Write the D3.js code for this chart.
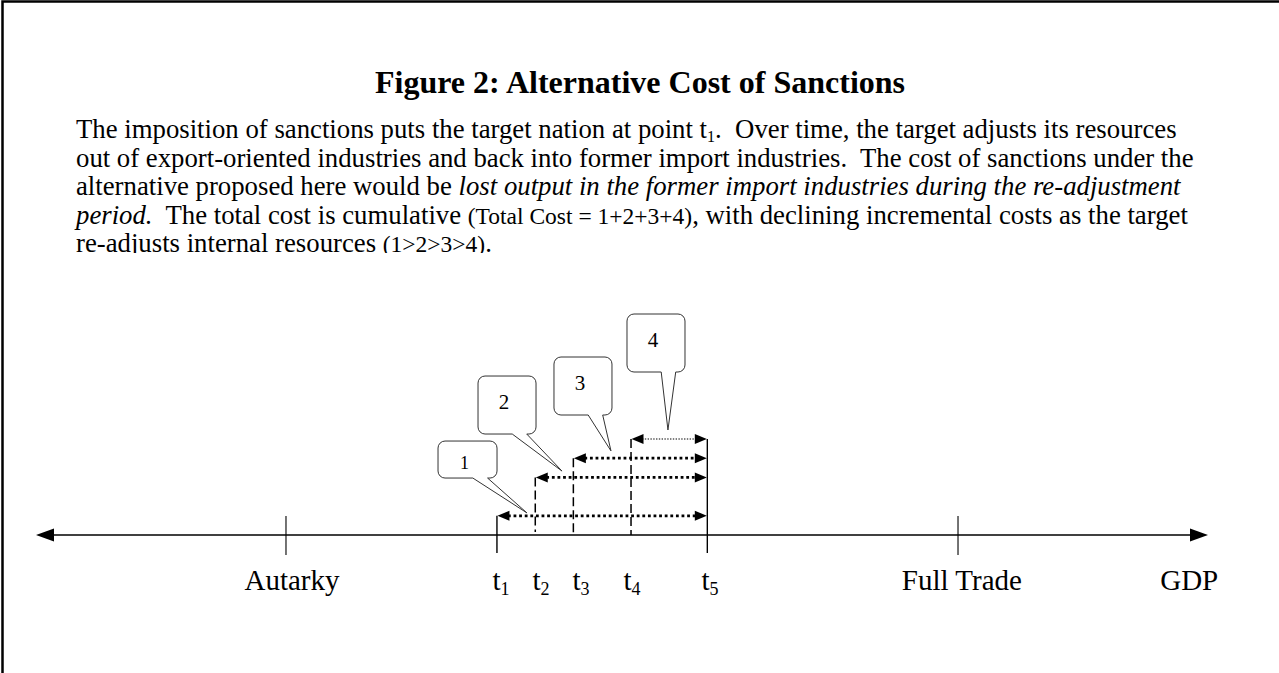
<!DOCTYPE html>
<html>
<head>
<meta charset="utf-8">
<script src="https://cdn.jsdelivr.net/npm/d3@7"></script>
<style>
  html, body { margin: 0; padding: 0; background: #fff; }
  svg { display: block; }
  text { font-family: "Liberation Serif", "Times New Roman", serif; fill: #000; }
</style>
</head>
<body>
<svg id="chart"></svg>
<script>
// --- text content ---
const title = "Figure 2: Alternative Cost of Sanctions";

// each line is a list of [text, style]; n = normal, i = italic, s = small, sub = subscript
const captionLines = [
  [["The imposition of sanctions puts the target nation at point t", "n"], ["1", "sub"], [".  Over time, the target adjusts its resources", "n"]],
  [["out of export-oriented industries and back into former import industries.  The cost of sanctions under the", "n"]],
  [["alternative proposed here would be ", "n"], ["lost output in the former import industries during the re-adjustment", "i"]],
  [["period.", "i"], ["  The total cost is cumulative ", "n"], ["(Total Cost = 1+2+3+4)", "s"], [", with declining incremental costs as the target", "n"]],
  [["re-adjusts internal resources ", "n"], ["(1>2>3>4)", "s"], [".", "n"]]
];

// --- axis values (position along the GDP line, 0..100) ---
const axisNames = ["Autarky", "Full Trade"];
const axisNamePos = [21.33, 78.67];
const axisNameLabelPos = [21.84, 79.0];
const gdpLabel = "GDP";
const gdpLabelPos = [98.4];

const tNames = ["1", "2", "3", "4", "5"];
const tPos = [39.33, 42.6, 45.85, 50.77, 57.28];
const tLabelPos = [39.68, 43.09, 46.5, 50.85, 57.51];

// height of each cost arrow (level above the line), one per period t1..t4
const costLevels = [1, 3, 4, 5];

// callouts: number, box centre and tip of the pointer
const calloutLabels = ["1", "2", "3", "4"];
const calloutBoxX = [36.82, 40.19, 46.67, 52.9];
const calloutBoxY = [3.93, 6.77, 7.76, 10.0];
const calloutTipX = [41.89, 44.88, 49.06, 53.92];
const calloutTipY = [1.15, 3.33, 4.38, 5.47];

// --- setup ---
const width = 1279;
const height = 673;
const svg = d3.select('#chart').attr('width', width).attr('height', height);

const x = d3.scaleLinear().domain([0, 100]).range([36, 1208]);
const y = d3.scaleLinear().domain([0, 5]).range([535, 439]);
const axisY = y(0);

// page frame (only top and left edges are visible)
svg.append('path')
  .attr('d', `M2.5,${height} V1.5 H${width}`)
  .attr('fill', 'none')
  .attr('stroke', '#000')
  .attr('stroke-width', 2.5);

// title
svg.append('text')
  .attr('x', 640)
  .attr('y', 93)
  .attr('text-anchor', 'middle')
  .style('font-size', '32px')
  .style('font-weight', 'bold')
  .text(title);

// caption paragraph, clipped at the bottom like the text box
svg.append('clipPath').attr('id', 'capclip')
  .append('rect').attr('x', 0).attr('y', 105).attr('width', width).attr('height', 148);

const caption = svg.append('g').attr('clip-path', 'url(#capclip)');
captionLines.forEach((segs, li) => {
  const t = caption.append('text')
    .attr('x', 76)
    .attr('y', 138 + li * 28.5)
    .attr('xml:space', 'preserve')
    .style('font-size', '26.75px')
    .style('white-space', 'pre');
  segs.forEach(([str, st], si) => {
    const sp = t.append('tspan').text(str);
    if (st === 'i') sp.style('font-style', 'italic');
    if (st === 's') sp.style('font-size', '23.5px');
    if (st === 'sub') sp.style('font-size', '16px').attr('dy', 4);
    // put the baseline back after a subscript
    if (si > 0 && segs[si - 1][1] === 'sub') sp.attr('dy', -4);
  });
});

// --- GDP line with arrowheads ---
const axisG = svg.append('g');
axisG.append('line')
  .attr('x1', x(0) + 10).attr('x2', x(100) - 10)
  .attr('y1', axisY).attr('y2', axisY)
  .attr('stroke', '#000').attr('stroke-width', 1.3);

function triangle(tipX, tipY, dir, len, half) {
  const p = d3.path();
  p.moveTo(tipX, tipY);
  p.lineTo(tipX - dir * len, tipY - half);
  p.lineTo(tipX - dir * len, tipY + half);
  p.closePath();
  return p.toString();
}

axisG.append('path').attr('d', triangle(x(0), axisY, -1, 18, 6.5));
axisG.append('path').attr('d', triangle(x(100), axisY, 1, 18, 6.5));

// ticks for Autarky and Full Trade
axisG.selectAll('line.tick')
  .data(axisNamePos)
  .enter().append('line')
  .attr('class', 'tick')
  .attr('x1', d => x(d)).attr('x2', d => x(d))
  .attr('y1', axisY - 19).attr('y2', axisY + 20)
  .attr('stroke', '#000').attr('stroke-width', 1.1);

// axis labels
const labelY = 590;
axisG.selectAll('text.name')
  .data(axisNames)
  .enter().append('text')
  .attr('class', 'name')
  .attr('x', (d, i) => x(axisNameLabelPos[i]))
  .attr('y', labelY)
  .attr('text-anchor', 'middle')
  .style('font-size', '29px')
  .text(d => d);

axisG.append('text')
  .attr('x', x(gdpLabelPos[0]))
  .attr('y', labelY)
  .attr('text-anchor', 'middle')
  .style('font-size', '29px')
  .text(gdpLabel);

// t labels with subscripts
const tLab = axisG.selectAll('text.tl')
  .data(tNames)
  .enter().append('text')
  .attr('class', 'tl')
  .attr('x', (d, i) => x(tLabelPos[i]))
  .attr('y', labelY)
  .attr('text-anchor', 'middle')
  .style('font-size', '29px');
tLab.append('tspan').text('t');
tLab.append('tspan').attr('dy', 5).style('font-size', '18px').text(d => d);

// --- period markers ---
const marks = svg.append('g');
// t1 and t5 are solid, t2..t4 dashed
marks.append('line')
  .attr('x1', x(tPos[0])).attr('x2', x(tPos[0]))
  .attr('y1', y(costLevels[0])).attr('y2', axisY + 18)
  .attr('stroke', '#000').attr('stroke-width', 1.4);
marks.append('line')
  .attr('x1', x(tPos[4])).attr('x2', x(tPos[4]))
  .attr('y1', y(d3.max(costLevels))).attr('y2', axisY + 18)
  .attr('stroke', '#000').attr('stroke-width', 1.4);

marks.selectAll('line.dash')
  .data(tPos.slice(1, 4))
  .enter().append('line')
  .attr('class', 'dash')
  .attr('x1', d => x(d)).attr('x2', d => x(d))
  .attr('y1', (d, i) => y(costLevels[i + 1]))
  .attr('y2', (d, i) => i === 0 ? axisY - 3 : axisY)
  .attr('stroke', '#000').attr('stroke-width', 1.5)
  .attr('stroke-dasharray', '9,4');

// cost arrows, each from t_i to t5
const arrows = marks.selectAll('g.cost')
  .data(costLevels)
  .enter().append('g')
  .attr('class', 'cost');

arrows.append('line')
  .attr('x1', (d, i) => x(tPos[i]) + 11)
  .attr('x2', x(tPos[4]) - 11)
  .attr('y1', d => y(d)).attr('y2', d => y(d))
  .attr('stroke', '#000')
  .attr('stroke-width', (d, i) => i === 3 ? 1.2 : 2.8)
  .attr('stroke-dasharray', (d, i) => i === 3 ? '1.4,1.4' : '2.8,2.8');

arrows.append('path')
  .attr('d', (d, i) => triangle(x(tPos[i]) + 0.5, y(d), -1, 12, 5));
arrows.append('path')
  .attr('d', d => triangle(x(tPos[4]) - 0.5, y(d), 1, 12, 5));

// --- callouts ---
function calloutPath(cx, cy, w, h, tx, ty) {
  const x0 = cx - w / 2, x1 = cx + w / 2, y0 = cy - h / 2, y1 = cy + h / 2, r = 7;
  const p = d3.path();
  p.moveTo(x0 + r, y0);
  p.arcTo(x1, y0, x1, y1, r);
  p.arcTo(x1, y1, x0, y1, r);
  p.lineTo(x0 + w * 0.84, y1);
  p.lineTo(tx, ty);
  p.lineTo(x0 + w * 0.59, y1);
  p.arcTo(x0, y1, x0, y0, r);
  p.arcTo(x0, y0, x1, y0, r);
  p.closePath();
  return p.toString();
}

const callouts = svg.selectAll('g.callout')
  .data(calloutLabels)
  .enter().append('g')
  .attr('class', 'callout');

callouts.append('path')
  .attr('d', (d, i) => calloutPath(
    x(calloutBoxX[i]), y(calloutBoxY[i]),
    i === 0 ? 59 : 58, i === 0 ? 37 : 58,
    x(calloutTipX[i]), y(calloutTipY[i])))
  .attr('fill', '#fff')
  .attr('stroke', '#333')
  .attr('stroke-width', 1);

callouts.append('text')
  .attr('x', (d, i) => x(calloutBoxX[i]) - 3)
  .attr('y', (d, i) => y(calloutBoxY[i]) + (i === 0 ? 9 : 4))
  .attr('text-anchor', 'middle')
  .style('font-size', (d, i) => i === 0 ? '18px' : '21px')
  .text(d => d);
</script>
</body>
</html>
